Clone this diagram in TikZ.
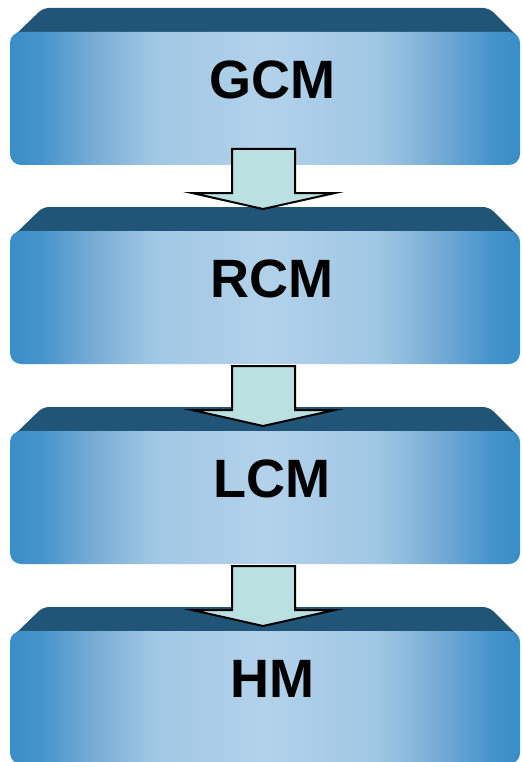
\documentclass[tikz,border=0pt]{standalone}
\usepackage{fontspec}
\setmainfont{Liberation Sans}
\definecolor{edgeblue}{RGB}{58,141,200}
\definecolor{e2blue}{RGB}{70,148,204}
\definecolor{qblue}{RGB}{125,175,215}
\definecolor{q2blue}{RGB}{160,199,228}
\definecolor{midblue}{RGB}{178,210,234}
\definecolor{bevelblue}{RGB}{33,85,120}
\definecolor{arrowfill}{RGB}{186,224,225}
\pgfdeclarehorizontalshading{boxshade}{100bp}{color(0bp)=(edgeblue); color(25bp)=(edgeblue); color(28bp)=(e2blue); color(33.8bp)=(qblue); color(39bp)=(q2blue); color(50bp)=(midblue); color(61bp)=(q2blue); color(66.2bp)=(qblue); color(72bp)=(e2blue); color(75bp)=(edgeblue); color(100bp)=(edgeblue)}
\tikzset{
  bevelpart/.style={fill=bevelblue, rounded corners=6pt},
  facepart/.style={shading=boxshade, rounded corners=11pt},
  boxlabel/.style={anchor=base, font=\bfseries\fontsize{54}{60}\selectfont, text=black, inner sep=0pt},
  downarrow/.style={draw=black, line width=2pt, fill=arrowfill, line join=miter}
}
\begin{document}
\begin{tikzpicture}[x=1pt,y=-1pt]
\useasboundingbox (0,0) rectangle (522,762);
\foreach \nm/\lab/\t in {gcm/GCM/8, rcm/RCM/207, lcm/LCM/407, hm/HM/607}{
  \fill[bevelpart] (10,\t+32) -- (43,\t) -- (489,\t) -- (521,\t+32) -- cycle;
  \shade[facepart] (10,\t+24) rectangle (520,\t+157);
  \node[boxlabel] (\nm) at (272,\t+90.5) {\lab};
}
\draw[downarrow] (232,149) -- (295,149) -- (295,193) -- (335,193) -- (263,209) -- (192,193) -- (232,193) -- cycle;
\draw[downarrow] (232,366) -- (295,366) -- (295,410) -- (335,410) -- (263,426) -- (192,410) -- (232,410) -- cycle;
\draw[downarrow] (232,566) -- (295,566) -- (295,610) -- (335,610) -- (263,626) -- (192,610) -- (232,610) -- cycle;
\end{tikzpicture}
\end{document}
